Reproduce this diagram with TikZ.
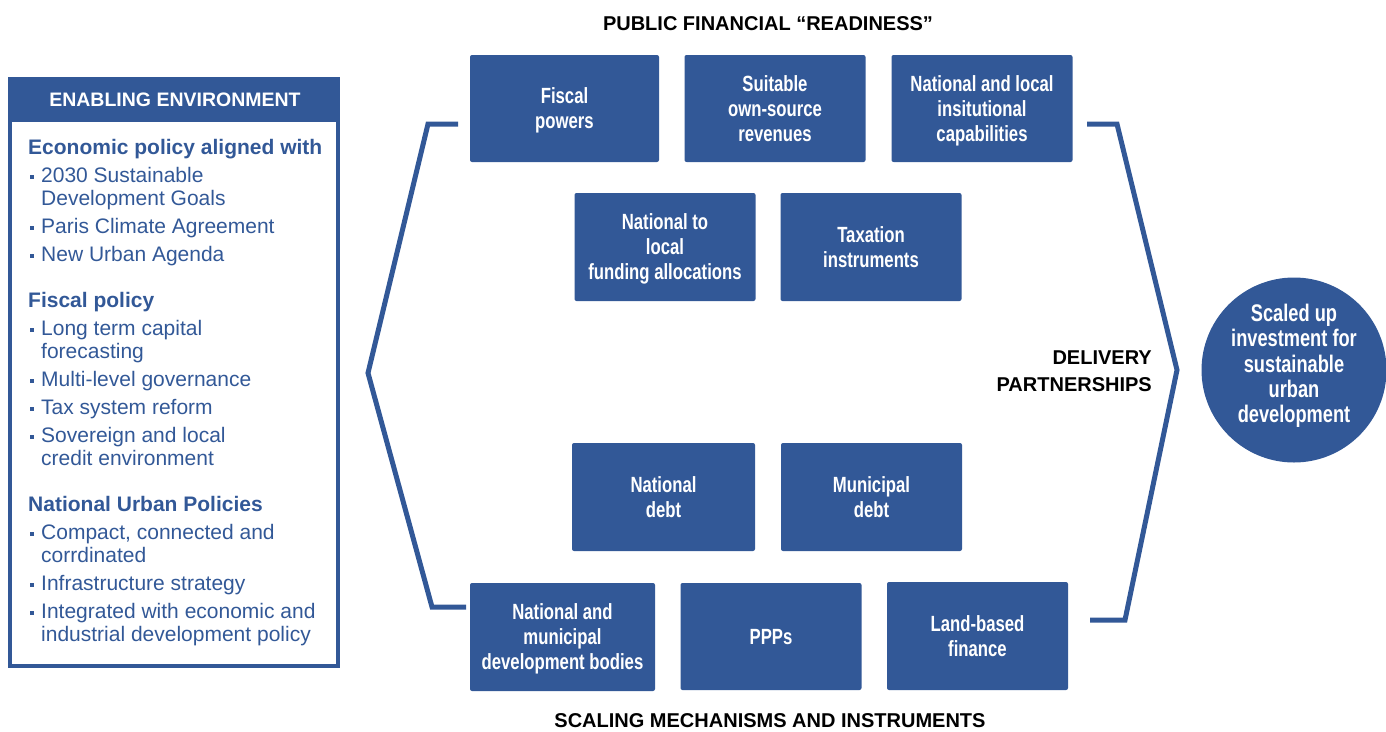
\documentclass[tikz,border=0pt]{standalone}
\usepackage{fontspec}
\setmainfont{Liberation Sans}
\newfontfamily\narrowfont[FakeStretch=0.76]{Liberation Sans}
\definecolor{unblue}{RGB}{50,88,151}

\begin{document}
\begin{tikzpicture}[x=1pt,y=-1pt,
  finbox/.style={fill=unblue, rounded corners=2pt, text=white, align=center, inner sep=0pt, text depth=0pt,
    font=\narrowfont\bfseries\fontsize{22}{25}\selectfont, minimum width=181, minimum height=108},
  goalcirc/.style={circle, fill=unblue, inner sep=0pt, minimum size=185},
  goaltext/.style={text=white, align=center, inner sep=0pt,
    font=\narrowfont\bfseries\fontsize{24}{25.3}\selectfont},
  sectitle/.style={font=\bfseries\fontsize{20}{27}\selectfont, inner sep=0pt},
  panelhead/.style={anchor=base west, inner sep=0pt, text=unblue, font=\bfseries\fontsize{21}{23}\selectfont},
  paneltext/.style={anchor=base west, inner sep=0pt, text=unblue, font=\fontsize{21}{23}\selectfont},
  bracket/.style={draw=unblue, line width=5pt}]
\useasboundingbox (0,0) rectangle (1386,731);

% Enabling environment panel
\draw[unblue, line width=4pt] (10,79) rectangle (338,666);
\fill[unblue] (8,77) rectangle (340,122);
\node[text=white, inner sep=0pt, font=\bfseries\fontsize{19.5}{22}\selectfont] (envhead) at (175,100) {ENABLING ENVIRONMENT};

\foreach \y/\txt [count=\i] in {147/Economic policy aligned with, 300/Fiscal policy, 504/National Urban Policies}
  \node[panelhead] (head\i) at (28,\y+7) {\txt};

% bulleted items
\foreach \y/\txt [count=\i] in {175/2030 Sustainable, 226/Paris Climate Agreement, 254/New Urban Agenda,
    328/Long term capital, 379/Multi-level governance, 407/Tax system reform, 435/Sovereign and local,
    532/{Compact, connected and}, 583/Infrastructure strategy, 611/Integrated with economic and}{
  \fill[unblue] (29.5,\y+-0.5) rectangle +(4,4);
  \node[paneltext] (item\i) at (41,\y+7) {\txt};
}
% second lines of the items
\foreach \y/\txt [count=\i] in {198/Development Goals, 351/forecasting, 458/credit environment,
    555/corrdinated, 634/industrial development policy}
  \node[paneltext] (cont\i) at (41,\y+7) {\txt};

% Public financial readiness
\node[sectitle] (readiness) at (768,24) {PUBLIC FINANCIAL “READINESS”};
\node[finbox, minimum width=189, minimum height=107] (fiscal) at (564.5,108.5) {Fiscal\\powers};
\node[finbox, minimum height=107] (ownsource) at (775,108.5) {Suitable\\own-source\\revenues};
\node[finbox, minimum height=107] (capab) at (982,108.5) {National and local\\insitutional\\capabilities};
\node[finbox] (alloc) at (665,247) {National to\\local\\funding allocations};
\node[finbox] (taxation) at (871,247) {Taxation\\instruments};

% Scaling mechanisms and instruments
\node[finbox, minimum width=183] (natdebt) at (663.5,497) {National\\debt};
\node[finbox] (mundebt) at (871.5,497) {Municipal\\debt};
\node[finbox, minimum width=185] (devbodies) at (562.5,637) {National and\\municipal\\development bodies};
\node[finbox, minimum height=107] (ppp) at (771,636.5) {PPPs};
\node[finbox] (landfin) at (977.5,636) {Land-based\\finance};
\node[sectitle] (scaling) at (770,721) {SCALING MECHANISMS AND INSTRUMENTS};

% brackets
\draw[bracket] (458,124) -- (428,124) -- (368,373) -- (432,607) -- (466,607);
\draw[bracket] (1087,124) -- (1117,124) -- (1177,370) -- (1125,620) -- (1090,620);

\node[sectitle, align=right, anchor=east] (delivery) at (1152,371.5) {DELIVERY\\PARTNERSHIPS};

\node[goalcirc] (goal) at (1294,370) {};
\node[goaltext] (goaltxt) at (1294,366) {Scaled up\\investment for\\sustainable\\urban\\development};
\end{tikzpicture}
\end{document}
